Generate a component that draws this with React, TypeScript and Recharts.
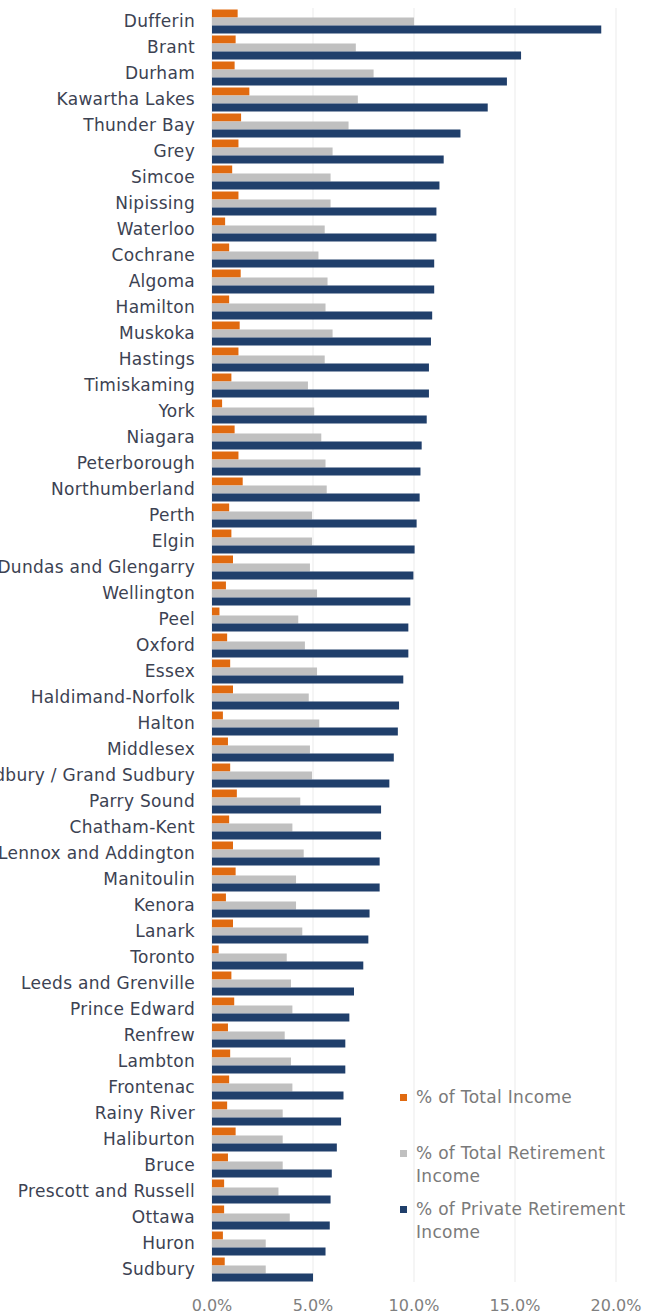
import { BarChart, Bar, XAxis, YAxis, CartesianGrid, Legend } from "recharts";

const regions = [
  "Dufferin", "Brant", "Durham", "Kawartha Lakes", "Thunder Bay", "Grey", "Simcoe", "Nipissing",
  "Waterloo", "Cochrane", "Algoma", "Hamilton", "Muskoka", "Hastings", "Timiskaming", "York",
  "Niagara", "Peterborough", "Northumberland", "Perth", "Elgin", "Stormont, Dundas and Glengarry",
  "Wellington", "Peel", "Oxford", "Essex", "Haldimand-Norfolk", "Halton", "Middlesex",
  "Greater Sudbury / Grand Sudbury", "Parry Sound", "Chatham-Kent", "Lennox and Addington",
  "Manitoulin", "Kenora", "Lanark", "Toronto", "Leeds and Grenville", "Prince Edward", "Renfrew",
  "Lambton", "Frontenac", "Rainy River", "Haliburton", "Bruce", "Prescott and Russell", "Ottawa",
  "Huron", "Sudbury",
];

// % of Total Income
const totalIncome = [
  1.27, 1.17, 1.12, 1.85, 1.44, 1.31, 1.0, 1.31, 0.65, 0.85, 1.42, 0.85, 1.37, 1.31, 0.96, 0.5,
  1.12, 1.31, 1.52, 0.85, 0.96, 1.04, 0.69, 0.37, 0.75, 0.9, 1.04, 0.54, 0.79, 0.9, 1.23, 0.85,
  1.04, 1.17, 0.69, 1.04, 0.33, 0.96, 1.1, 0.79, 0.9, 0.85, 0.75, 1.17, 0.79, 0.6, 0.6, 0.54, 0.63,
];

// % of Total Retirement Income
const totalRetirement = [
  10.0, 7.12, 8.0, 7.22, 6.76, 5.97, 5.87, 5.87, 5.58, 5.27, 5.72, 5.62, 5.97, 5.58, 4.75, 5.06,
  5.41, 5.62, 5.68, 4.95, 4.95, 4.85, 5.2, 4.27, 4.6, 5.2, 4.79, 5.31, 4.85, 4.95, 4.37, 3.98,
  4.54, 4.16, 4.16, 4.47, 3.7, 3.91, 3.98, 3.6, 3.91, 3.98, 3.5, 3.5, 3.5, 3.29, 3.85, 2.66, 2.66,
];

// % of Private Retirement Income
const privateRetirement = [
  19.27, 15.3, 14.6, 13.65, 12.3, 11.47, 11.26, 11.11, 11.11, 11.0, 11.0, 10.9, 10.84, 10.74,
  10.74, 10.63, 10.38, 10.32, 10.28, 10.13, 10.03, 9.97, 9.82, 9.72, 9.72, 9.47, 9.26, 9.2, 9.0,
  8.78, 8.37, 8.37, 8.3, 8.3, 7.8, 7.74, 7.49, 7.03, 6.8, 6.6, 6.6, 6.51, 6.39, 6.18, 5.93, 5.87,
  5.83, 5.62, 5.0,
];

const seriesNames = ["% of Total Income", "% of Total Retirement Income", "% of Private Retirement Income"];
const xTicks = [0, 5, 10, 15, 20];

const data = regions.map((r, i) => ({
  region: r,
  totalIncome: totalIncome[i],
  totalRetirement: totalRetirement[i],
  privateRetirement: privateRetirement[i],
}));

const RegionTick = ({ x, y, payload }: any) => (
  <text x={x} y={y} dy="0.36em" textAnchor="end" fill="#3c4252" fontSize={17} letterSpacing={0.3}>
    {payload.value}
  </text>
);

// legend keeps the series order (recharts sorts the payload by name otherwise)
const LegendBox = ({ payload }: any) => {
  const items = [...(payload ?? [])].sort((a: any, b: any) => seriesNames.indexOf(a.value) - seriesNames.indexOf(b.value));
  return (
    <div>
      {items.map((p: any) => (
        <div key={p.value} style={{ height: 56, display: "flex", alignItems: "flex-start" }}>
          <span style={{ width: 7, height: 7, background: p.color, marginTop: 8, marginRight: 9, flex: "none" }} />
          <span style={{ width: 222, lineHeight: "22.5px", fontSize: 17, color: "#7a7a7a", letterSpacing: 0.3 }}>{p.value}</span>
        </div>
      ))}
    </div>
  );
};

export default function App() {
  return (
    <div style={{ position: "absolute", left: 0, top: 0, width: 652, height: 1315, fontFamily: "'DejaVu Sans', sans-serif" }}>
      <BarChart
        width={652}
        height={1315}
        data={data}
        layout="vertical"
        margin={{ top: 8, right: 36, left: 0, bottom: 0 }}
        barGap={0}
        barCategoryGap={1.5}
      >
        <CartesianGrid horizontal={false} stroke="#ebebeb" />
        <XAxis
          type="number"
          domain={[0, 20]}
          ticks={xTicks}
          tickFormatter={(v) => `${Number(v).toFixed(1)}%`}
          axisLine={false}
          tickLine={false}
          tickMargin={12}
          height={33}
          tick={{ fill: "#7f7f7f", fontSize: 16 }}
        />
        <YAxis
          type="category"
          dataKey="region"
          width={212}
          interval={0}
          axisLine={false}
          tickLine={false}
          tickMargin={11}
          tick={<RegionTick />}
        />
        <Legend
          layout="vertical"
          align="center"
          verticalAlign="middle"
          content={<LegendBox />}
          wrapperStyle={{ left: 400, top: 1086, width: 250 }}
        />
        <Bar dataKey="totalIncome" name={seriesNames[0]} fill="#e06a10" isAnimationActive={false} />
        <Bar dataKey="totalRetirement" name={seriesNames[1]} fill="#c0c0c0" isAnimationActive={false} />
        <Bar dataKey="privateRetirement" name={seriesNames[2]} fill="#203f6b" isAnimationActive={false} />
      </BarChart>
    </div>
  );
}
